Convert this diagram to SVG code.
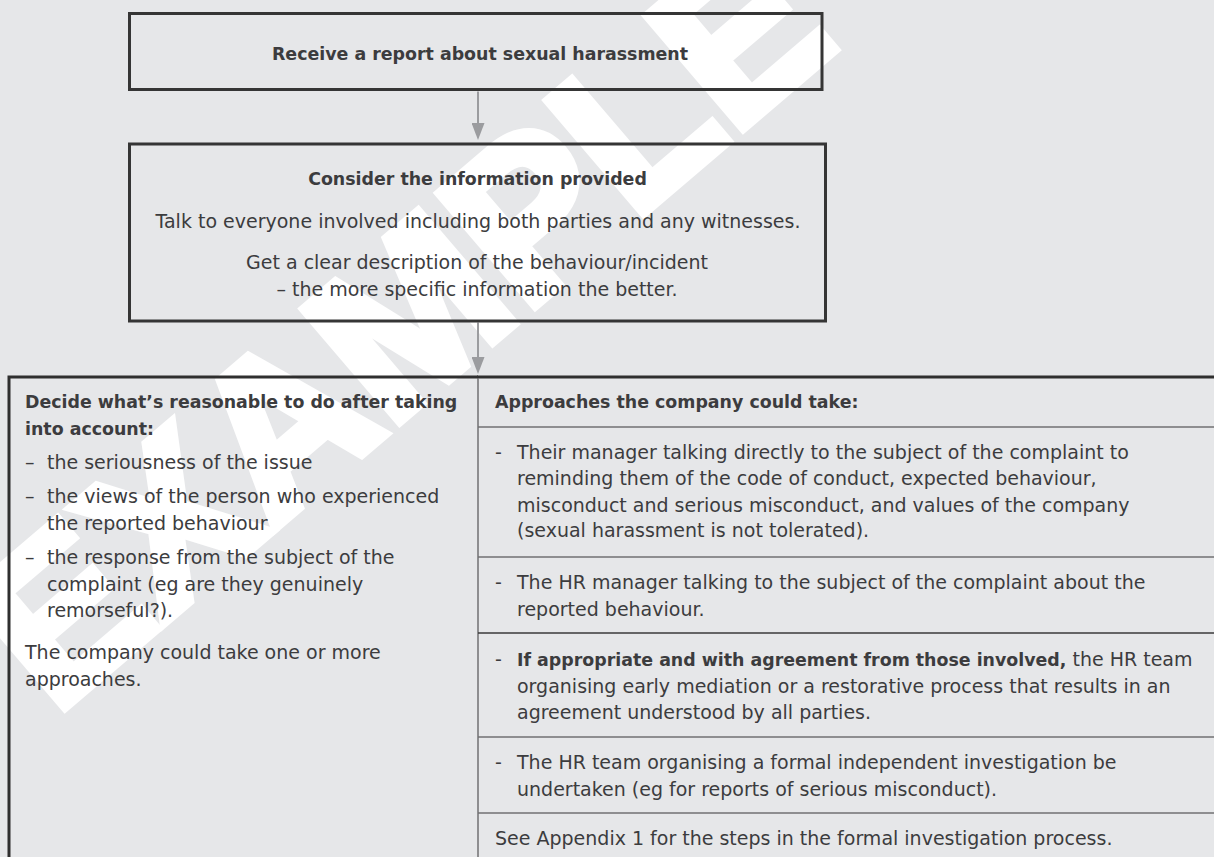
<svg xmlns="http://www.w3.org/2000/svg" width="1214" height="857" viewBox="0 0 1214 857">
  <defs>
    <style>
      .bg { fill: #e6e7e9; }
      .box { fill: none; stroke: #353535; stroke-width: 3; }
      .frame { fill: none; stroke: #2f2f2f; stroke-width: 3; }
      .rule { stroke: #707072; stroke-width: 1.5; fill: none; }
      .rule-dark { stroke: #3a3a3a; stroke-width: 1.5; fill: none; }
      .link { stroke: #9b9c9f; stroke-width: 2; fill: none; }
      .wm { font-family: "Liberation Sans", Arial, sans-serif; font-weight: bold; fill: #ffffff; stroke: #ffffff; stroke-width: 10; stroke-linejoin: miter; }
      text.t { font-family: "DejaVu Sans", "Liberation Sans", sans-serif; font-size: 19px; fill: #3c3c3e; }
      text.h, tspan.h { font-family: "DejaVu Sans", "Liberation Sans", sans-serif; font-size: 17.4px; font-weight: bold; fill: #3c3c3e; }
      .mid { text-anchor: middle; }
    </style>
    <marker id="arrowhead" viewBox="0 0 17 13" refX="1" refY="6.5" markerWidth="17" markerHeight="13" markerUnits="userSpaceOnUse" orient="auto">
      <path d="M0,0 L17,6.5 L0,13 Z" fill="#9b9c9f"/>
    </marker>
  </defs>

  <rect class="bg" x="0" y="0" width="1214" height="857"/>

  <!-- diagonal watermark -->
  <g id="watermark">
    <text class="wm" font-size="214" text-anchor="middle" transform="translate(398,322) rotate(-40.5)" x="0" y="76.5">EXAMPLE</text>
  </g>

  <!-- arrows between steps -->
  <g id="connectors">
    <path class="link" d="M478,91.5 V124" marker-end="url(#arrowhead)"/>
    <path class="link" d="M478,322.5 V358" marker-end="url(#arrowhead)"/>
  </g>

  <g id="node-report">
    <rect class="box" x="129.5" y="13.5" width="692.5" height="76"/>
    <text class="h mid" x="480" y="60">Receive a report about sexual harassment</text>
  </g>

  <g id="node-consider">
    <rect class="box" x="129.5" y="144" width="696" height="177"/>
    <text class="h mid" x="477.5" y="185">Consider the information provided</text>
    <text class="t mid" x="478" y="227.5">Talk to everyone involved including both parties and any witnesses.</text>
    <text class="t mid" x="477" y="269">Get a clear description of the behaviour/incident</text>
    <text class="t mid" x="477" y="296">– the more specific information the better.</text>
  </g>

  <g id="node-decide">
    <path class="frame" d="M9,857 V377 H478"/>
    <text class="h" x="25" y="408">Decide what’s reasonable to do after taking</text>
    <text class="h" x="25" y="435">into account:</text>
    <text class="t" x="25" y="469">–</text>
    <text class="t" x="47" y="469">the seriousness of the issue</text>
    <text class="t" x="25" y="503">–</text>
    <text class="t" x="47" y="503">the views of the person who experienced</text>
    <text class="t" x="47" y="530">the reported behaviour</text>
    <text class="t" x="25" y="564">–</text>
    <text class="t" x="47" y="564">the response from the subject of the</text>
    <text class="t" x="47" y="591">complaint (eg are they genuinely</text>
    <text class="t" x="47" y="617">remorseful?).</text>
    <text class="t" x="25" y="659">The company could take one or more</text>
    <text class="t" x="25" y="686">approaches.</text>
  </g>

  <g id="node-approaches">
    <path class="frame" d="M477,377 H1214"/>
    <path class="rule" d="M478,378 V857"/>
    <path class="rule" d="M478,427 H1214"/>
    <path class="rule" d="M478,557 H1214"/>
    <path class="rule-dark" d="M478,633 H1214"/>
    <path class="rule" d="M478,737 H1214"/>
    <path class="rule" d="M478,813 H1214"/>

    <text class="h" x="495" y="408">Approaches the company could take:</text>

    <text class="t" x="495" y="459">-</text>
    <text class="t" x="517" y="459">Their manager talking directly to the subject of the complaint to</text>
    <text class="t" x="517" y="485">reminding them of the code of conduct, expected behaviour,</text>
    <text class="t" x="517" y="512">misconduct and serious misconduct, and values of the company</text>
    <text class="t" x="517" y="537">(sexual harassment is not tolerated).</text>

    <text class="t" x="495" y="589">-</text>
    <text class="t" x="517" y="589">The HR manager talking to the subject of the complaint about the</text>
    <text class="t" x="517" y="616">reported behaviour.</text>

    <text class="t" x="495" y="666">-</text>
    <text class="t" x="517" y="666"><tspan class="h">If appropriate and with agreement from those involved,</tspan> the HR team</text>
    <text class="t" x="517" y="693">organising early mediation or a restorative process that results in an</text>
    <text class="t" x="517" y="719">agreement understood by all parties.</text>

    <text class="t" x="495" y="769">-</text>
    <text class="t" x="517" y="769">The HR team organising a formal independent investigation be</text>
    <text class="t" x="517" y="796">undertaken (eg for reports of serious misconduct).</text>

    <text class="t" x="495" y="845">See Appendix 1 for the steps in the formal investigation process.</text>
  </g>
</svg>
